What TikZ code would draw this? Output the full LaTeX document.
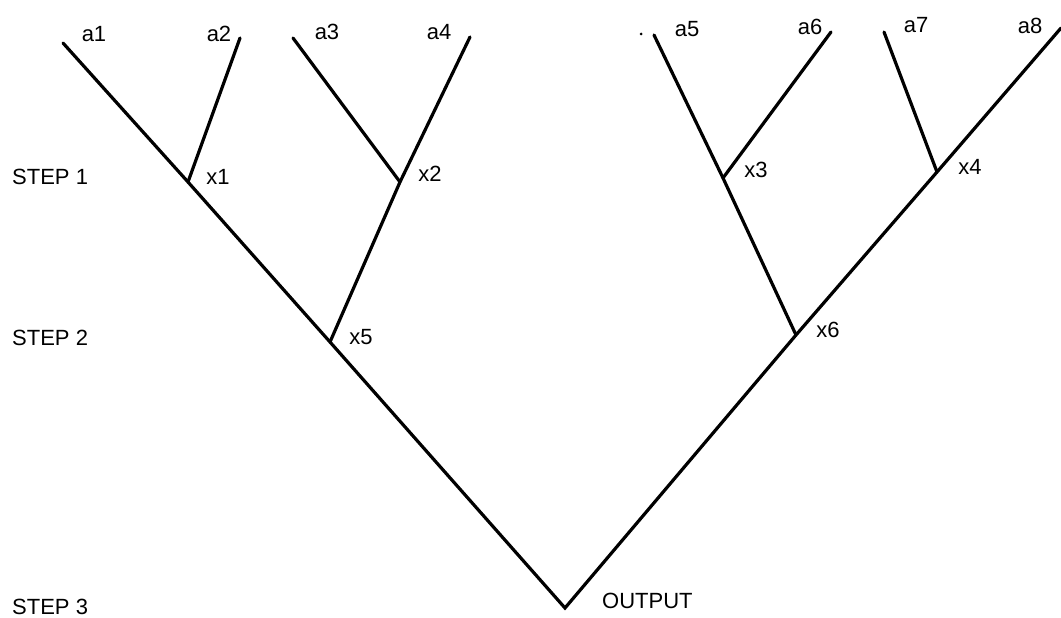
\documentclass[tikz,border=0pt]{standalone}
\usepackage{fontspec}
\setmainfont{Liberation Sans}
\begin{document}
\begin{tikzpicture}[x=1pt,y=-1pt,
  branch/.style={line width=3.2pt,line cap=round,line join=miter},
  lab/.style={inner sep=0pt,font=\fontsize{22}{24}\selectfont},
  steplab/.style={inner sep=0pt,font=\fontsize{22}{24}\selectfont},
  pt/.style={coordinate}]
\useasboundingbox (0,0) rectangle (1061,618);
% leaves
\coordinate (l1) at (63,43);
\coordinate (l2) at (240,38);
\coordinate (l3) at (293,38);
\coordinate (l4) at (470,37);
\coordinate (l5) at (654,35);
\coordinate (l6) at (831,32);
\coordinate (l7) at (884,32);
\coordinate (l8) at (1061,28);
% junctions
\coordinate (j1) at (188,182);
\coordinate (j2) at (400,182);
\coordinate (j3) at (723,178);
\coordinate (j4) at (937,172);
\coordinate (j5) at (330,342);
\coordinate (j6) at (796,335);
\coordinate (out) at (565,608);
% branches
\draw[branch] (l1) -- (j1) -- (j5) -- (out) -- (j6) -- (j4) -- (l8);
\draw[branch] (l2) -- (j1);
\draw[branch] (l3) -- (j2);
\draw[branch] (l4) -- (j2) -- (j5);
\draw[branch] (l5) -- (j3) -- (j6);
\draw[branch] (l6) -- (j3);
\draw[branch] (l7) -- (j4);
% stray dot
\fill (641,34) circle (1.5);
% leaf labels
\node[lab] (ta1) at (94,34) {a1};
\node[lab] (ta2) at (219,34) {a2};
\node[lab] (ta3) at (327,32) {a3};
\node[lab] (ta4) at (439,32) {a4};
\node[lab] (ta5) at (687,29) {a5};
\node[lab] (ta6) at (810,27) {a6};
\node[lab] (ta7) at (916,25) {a7};
\node[lab] (ta8) at (1030,26) {a8};
% junction labels
\node[lab] (tx1) at (218,177) {x1};
\node[lab] (tx2) at (430,174) {x2};
\node[lab] (tx3) at (756,170) {x3};
\node[lab] (tx4) at (970,167) {x4};
\node[lab] (tx5) at (361,337) {x5};
\node[lab] (tx6) at (828,330) {x6};
\node[steplab,anchor=west] (tout) at (602,601) {OUTPUT};
% step labels
\node[steplab,anchor=west] (s1) at (12,177) {STEP 1};
\node[steplab,anchor=west] (s2) at (12,338) {STEP 2};
\node[steplab,anchor=west] (s3) at (12,607) {STEP 3};
\end{tikzpicture}
\end{document}
